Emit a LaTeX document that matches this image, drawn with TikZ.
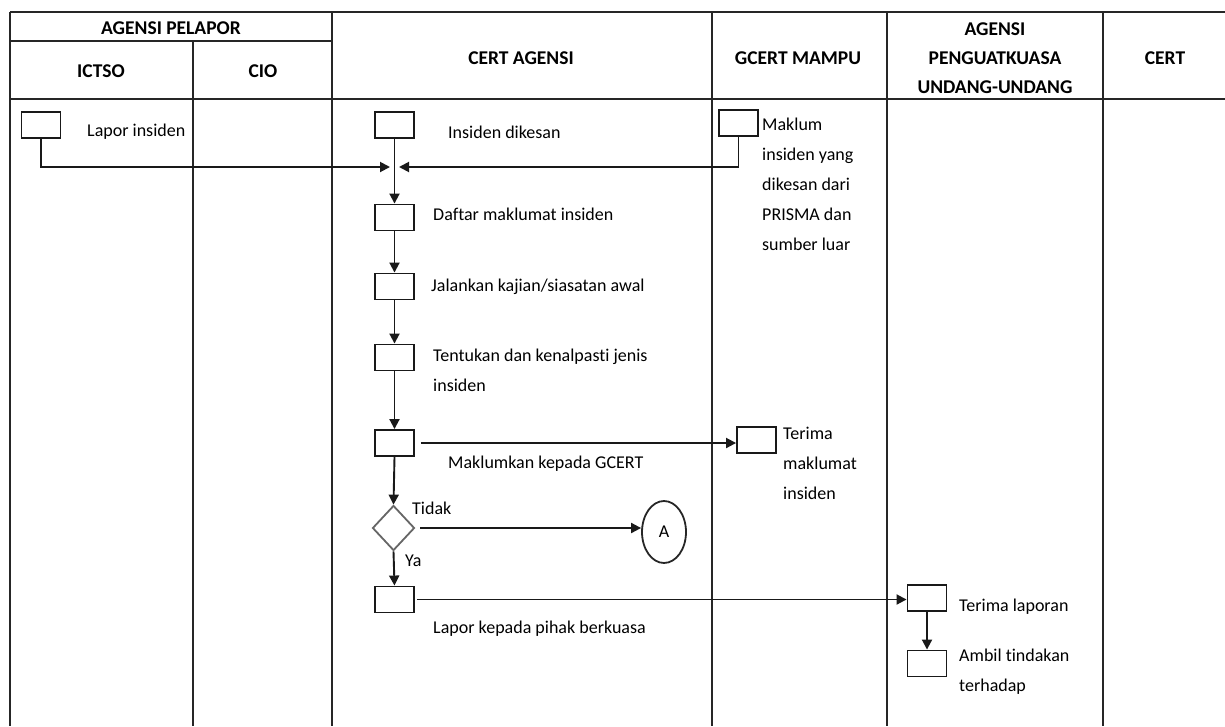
\documentclass[tikz,border=0pt]{standalone}
\usepackage{fontspec}
\setmainfont{Carlito}[Ligatures=NoCommon]
\usetikzlibrary{arrows.meta,shapes.geometric}
\begin{document}
\begin{tikzpicture}[x=1pt,y=-1pt,
  grid/.style={line width=2.1pt,draw=black!85},
  hdr/.style={font=\fontsize{19.5}{29}\selectfont\bfseries,align=center,inner sep=0},
  txt/.style={font=\fontsize{18}{30}\selectfont,align=left,inner sep=0,anchor=base west},
  stepbox/.style={draw=black!90,line width=1.9pt,minimum width=39pt,minimum height=26pt,inner sep=0},
  flow/.style={draw=black!90,line width=1.9pt,-{Triangle[length=10pt,width=10pt]}},
]
\useasboundingbox (0,0) rectangle (1225,726);
% table grid
\draw[grid] (10,12) -- (1225,12);
\draw[grid] (10,41) -- (332,41);
\draw[grid] (10,99) -- (1225,99);
\draw[grid] (10,12) -- (10,726);
\draw[grid] (193,41) -- (193,726);
\draw[grid] (332,12) -- (332,726);
\draw[grid] (712,12) -- (712,726);
\draw[grid] (887,12) -- (887,726);
\draw[grid] (1103,12) -- (1103,726);
% headers
\node[hdr] (h1) at (171,28) {AGENSI PELAPOR};
\node[hdr] (h2) at (101,71) {ICTSO};
\node[hdr] (h3) at (263,71) {CIO};
\node[hdr] (h4) at (521,58) {CERT AGENSI};
\node[hdr] (h5) at (798,58) {GCERT MAMPU};
\node[hdr] (h6) at (995,58) {AGENSI\\PENGUATKUASA\\UNDANG-UNDANG};
\node[hdr] (h7) at (1165,58) {CERT};
% boxes
\node[stepbox] (b1) at (41,125) {};
\node[stepbox] (b2) at (394.5,125) {};
\node[stepbox] (b3) at (738.5,123) {};
\node[stepbox] (b4) at (394.5,217.5) {};
\node[stepbox] (b5) at (394.5,286.5) {};
\node[stepbox] (b6) at (394.5,357.5) {};
\node[stepbox] (b7) at (394.5,443) {};
\node[stepbox] (b8) at (756.5,440) {};
\node[diamond,draw=black!60,line width=1.8pt,minimum width=42pt,minimum height=45pt,inner sep=0] (d) at (393.5,528) {};
\node[ellipse,draw=black!85,line width=1.8pt,minimum width=44pt,minimum height=62pt,inner sep=0,font=\fontsize{18}{20}\selectfont] (A) at (664,532) {A};
\node[stepbox] (b9) at (394.5,599.5) {};
\node[stepbox] (b10) at (927,598) {};
\node[stepbox] (b11) at (927,663.5) {};
\coordinate (jl) at (390,167);
\coordinate (jr) at (399,167);
% texts (base anchor = baseline of the last line)
\node[txt] (t1) at (87,136) {Lapor insiden};
\node[txt] (t2) at (448,138) {Insiden dikesan};
\node[txt] (t3) at (762,250) {Maklum\\insiden yang\\dikesan dari\\PRISMA dan\\sumber luar};
\node[txt] (t4) at (433,220) {Daftar maklumat insiden};
\node[txt] (t5) at (431,291) {Jalankan kajian/siasatan awal};
\node[txt] (t6) at (433,391) {Tentukan dan kenalpasti jenis\\insiden};
\node[txt] (t7) at (448,468) {Maklumkan kepada GCERT};
\node[txt] (t8) at (783,499) {Terima\\maklumat\\insiden};
\node[txt] (t9) at (412,514) {Tidak};
\node[txt] (t10) at (405,566) {Ya};
\node[txt] (t11) at (433,633) {Lapor kepada pihak berkuasa};
\node[txt] (t12) at (959,611) {Terima laporan};
\node[txt] (t13) at (959,691) {Ambil tindakan\\terhadap};
% connectors
\draw[flow] (b1.south) |- (jl);
\draw[flow] (b3.south) |- (jr);
\draw[flow] (b2.south) -- (b4.north);
\draw[flow] (b4.south) -- (b5.north);
\draw[flow] (b5.south) -- (b6.north);
\draw[flow] (b6.south) -- (b7.north);
\draw[flow,shorten <=6pt] (b7.east) -- (b7.east -| b8.west);
\draw[flow] (b7.south) -- (d.north);
\draw[flow,shorten <=5pt] (d.east) -- (d.east -| A.west);
\draw[flow] (d.south) -- (b9.north);
\draw[flow,shorten <=2pt] (b9.east) -- (b9.east -| b10.west);
\draw[flow] (b10.south) -- (b11.north);
\end{tikzpicture}
\end{document}
